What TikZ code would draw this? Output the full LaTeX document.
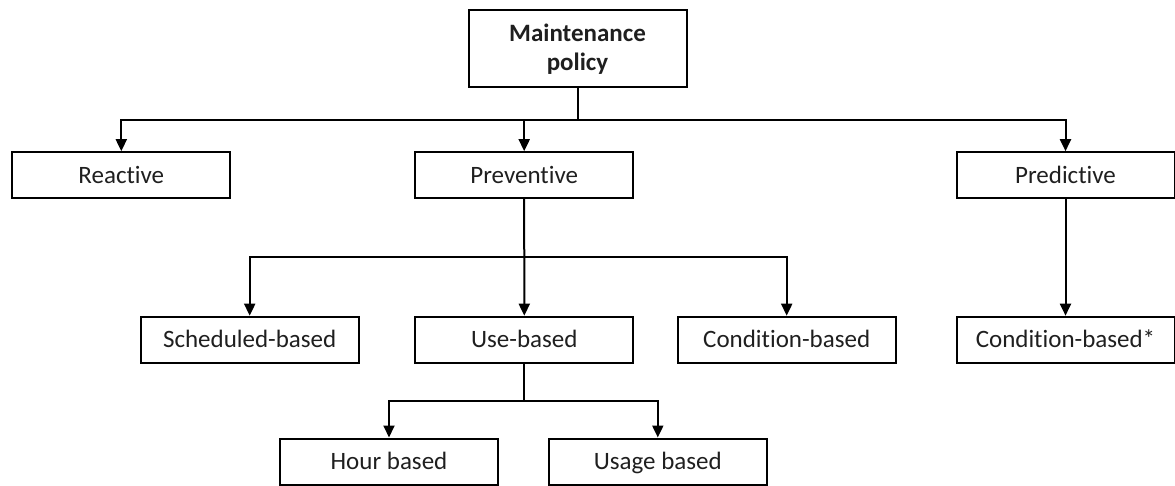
\documentclass[tikz,border=0pt]{standalone}
\usepackage{fontspec}
\setmainfont[Ligatures=NoCommon]{Carlito}
\usetikzlibrary{arrows.meta}
\begin{document}
\begin{tikzpicture}[x=1pt,y=-1pt,
  frame/.style={draw, line width=2pt, minimum width=218pt, minimum height=46pt,
    inner sep=0pt, font=\fontsize{25}{29}\selectfont, text=black!88},
  box/.style={frame, text height=16pt, text depth=0pt},
  link/.style={line width=2pt, -{Triangle[width=11pt,length=12pt]}},
  bus/.style={line width=2pt}]
\useasboundingbox (0,0) rectangle (1175,486);

% top of the tree
\node[frame, minimum height=77pt, align=center,
      font=\fontsize{25}{29}\selectfont\bfseries]
  (root) at (577.5,48.8) {Maintenance\\policy};

% first level
\node[box] (reactive)   at (121.3,175.2) {Reactive};
\node[box] (preventive) at (524.2,175.2) {Preventive};
\node[box] (predictive) at (1065.5,175.2) {Predictive};

% second level
\node[box] (sched)    at (249.7,339.7) {Scheduled-based};
\node[box] (use)      at (524.3,339.7) {Use-based};
\node[box] (cond)     at (786.7,339.7) {Condition-based};
\node[box] (condstar) at (1065.5,339.7) {Condition-based*};

% third level
\node[box] (hour)  at (389,461.5) {Hour based};
\node[box] (usage) at (657.8,461.5) {Usage based};

% junction points on the horizontal buses
\coordinate (j1) at (577.5,120);
\coordinate (j2) at (524.2,257);
\coordinate (j3) at (524.3,400.7);

% root to first level
\draw[bus] (root.south) -- (j1);
\draw[link] (j1) -| (reactive.north);
\draw[link] (j1) -| (preventive.north);
\draw[link] (j1) -| (predictive.north);

% preventive branch
\draw[link] (preventive.south) -- (use.north);
\draw[link] (j2) -| (sched.north);
\draw[link] (j2) -| (cond.north);

% predictive branch
\draw[link] (predictive.south) -- (condstar.north);

% use-based branch
\draw[bus] (use.south) -- (j3);
\draw[link] (j3) -| (hour.north);
\draw[link] (j3) -| (usage.north);
\end{tikzpicture}
\end{document}
